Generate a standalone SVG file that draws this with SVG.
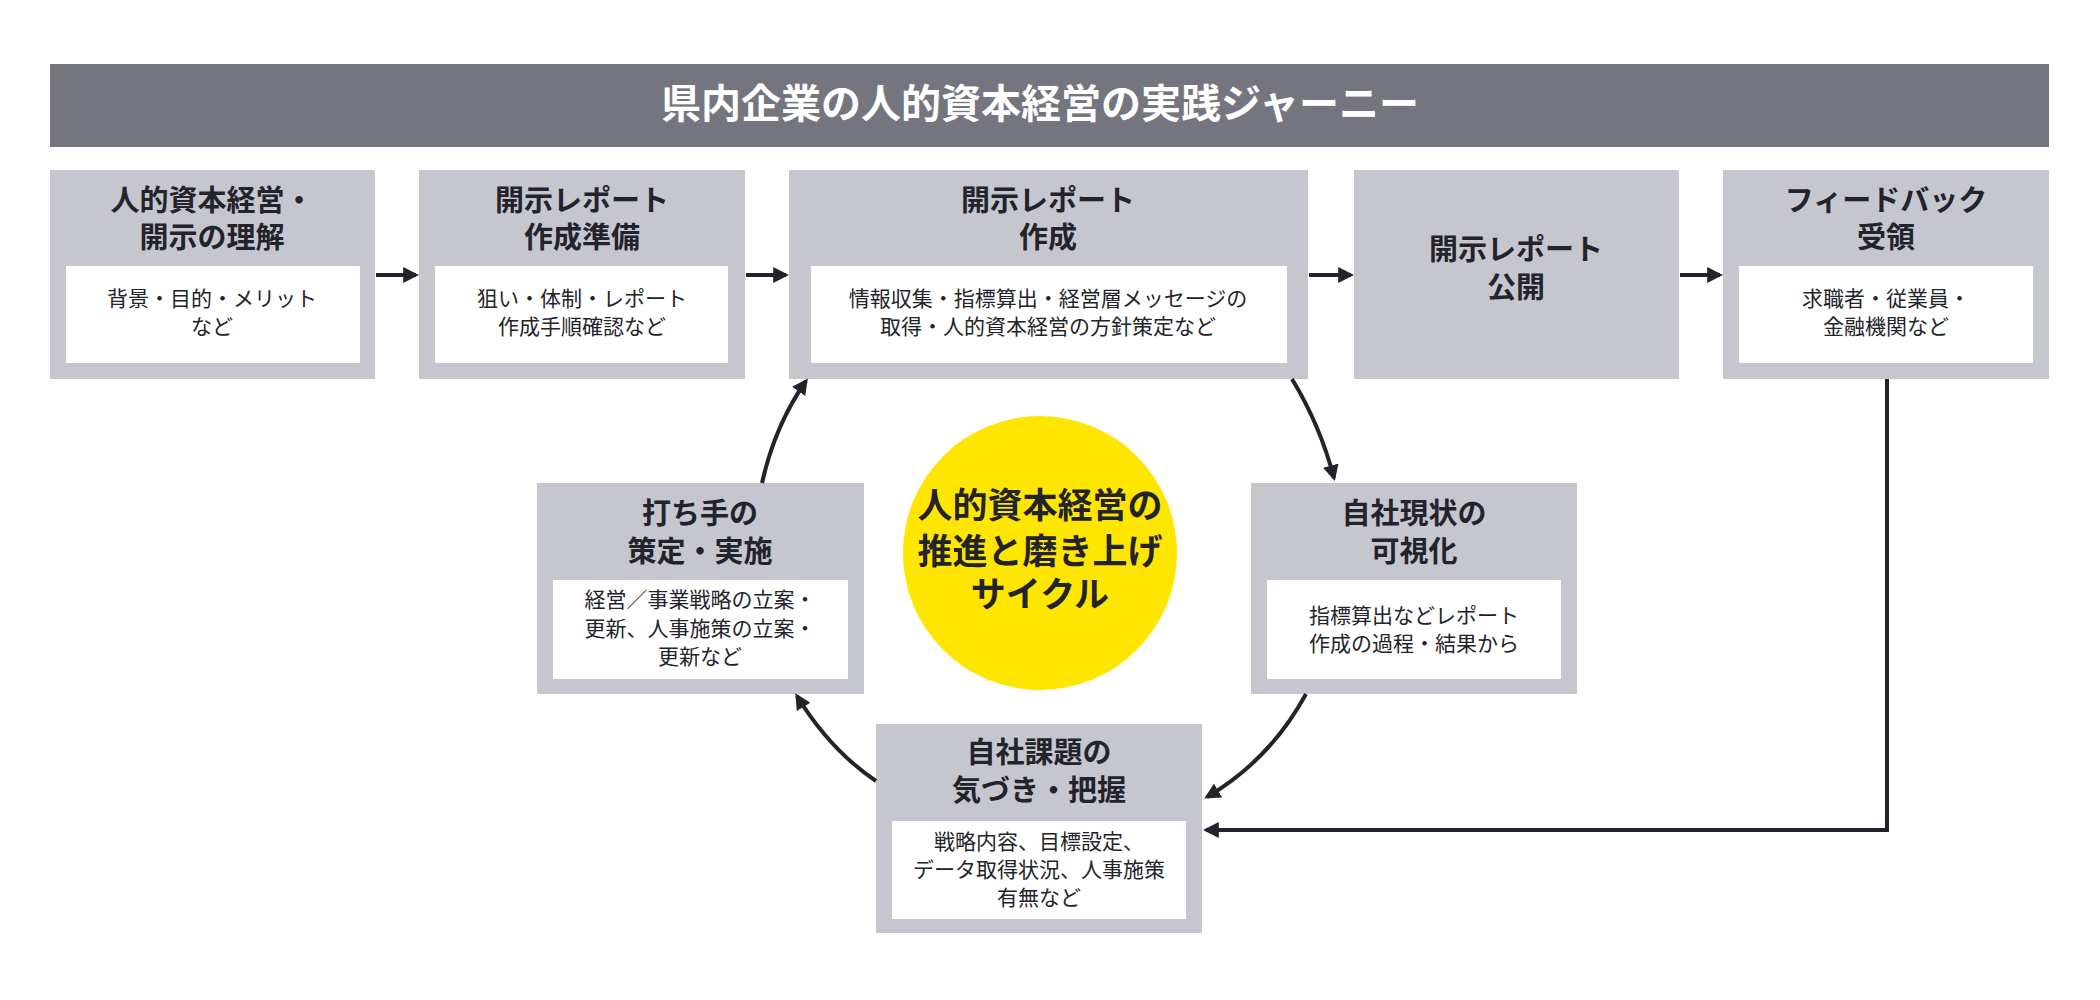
<svg xmlns="http://www.w3.org/2000/svg" width="2100" height="1000" viewBox="0 0 2100 1000">
<style>
.box{fill:#c6c6ce}.in{fill:#fff}
.t{font-family:"Liberation Sans","Noto Sans CJK JP",sans-serif;font-weight:bold;font-size:29px;fill:#23232b;text-anchor:middle}
.s{font-family:"Liberation Sans","Noto Sans CJK JP",sans-serif;font-size:21px;fill:#23232b;text-anchor:middle}
.c{font-family:"Liberation Sans","Noto Sans CJK JP",sans-serif;font-weight:bold;font-size:35px;fill:#23232b;text-anchor:middle}
.l{fill:none;stroke:#23232b;stroke-width:4;marker-end:url(#a)}
</style>
<defs><marker id="a" viewBox="0 0 10 10" refX="8" refY="5" markerWidth="4" markerHeight="4" orient="auto" markerUnits="strokeWidth"><path d="M0,0L10,5L0,10z" fill="#23232b"/></marker></defs>
<rect width="2100" height="1000" fill="#fff"/>
<g id="title"><rect x="50" y="64" width="1999" height="83" fill="#75757f"/>
<text x="1040" y="118" class="c" style="fill:#fff;font-size:40px">県内企業の人的資本経営の実践ジャーニー</text></g>
<g id="n1"><rect class="box" x="50" y="170" width="325" height="209"/><rect class="in" x="66" y="266" width="294" height="97"/>
<text class="t" x="212" y="211">人的資本経営・</text><text class="t" x="212" y="248">開示の理解</text>
<text class="s" x="212" y="306">背景・目的・メリット</text><text class="s" x="212" y="334">など</text></g>
<g id="n2"><rect class="box" x="419" y="170" width="326" height="209"/><rect class="in" x="435" y="266" width="293" height="97"/>
<text class="t" x="582" y="211">開示レポート</text><text class="t" x="582" y="248">作成準備</text>
<text class="s" x="582" y="306">狙い・体制・レポート</text><text class="s" x="582" y="334">作成手順確認など</text></g>
<g id="n3"><rect class="box" x="789" y="170" width="519" height="209"/><rect class="in" x="811" y="266" width="476" height="97"/>
<text class="t" x="1048" y="211">開示レポート</text><text class="t" x="1048" y="248">作成</text>
<text class="s" x="1048" y="306">情報収集・指標算出・経営層メッセージの</text><text class="s" x="1048" y="334">取得・人的資本経営の方針策定など</text></g>
<g id="n4"><rect class="box" x="1354" y="170" width="325" height="209"/>
<text class="t" x="1516" y="260">開示レポート</text><text class="t" x="1516" y="298">公開</text></g>
<g id="n5"><rect class="box" x="1723" y="170" width="326" height="209"/><rect class="in" x="1739" y="266" width="294" height="97"/>
<text class="t" x="1886" y="211">フィードバック</text><text class="t" x="1886" y="248">受領</text>
<text class="s" x="1886" y="306">求職者・従業員・</text><text class="s" x="1886" y="334">金融機関など</text></g>
<g id="center"><circle cx="1040" cy="553" r="137" fill="#ffe600"/>
<text class="c" x="1040" y="518">人的資本経営の</text><text class="c" x="1040" y="564">推進と磨き上げ</text><text class="c" x="1040" y="607">サイクル</text></g>
<g id="n6"><rect class="box" x="537" y="483" width="327" height="211"/><rect class="in" x="553" y="580" width="295" height="99"/>
<text class="t" x="700" y="524">打ち手の</text><text class="t" x="700" y="562">策定・実施</text>
<text class="s" x="700" y="607">経営／事業戦略の立案・</text><text class="s" x="700" y="636">更新、人事施策の立案・</text><text class="s" x="700" y="664">更新など</text></g>
<g id="n7"><rect class="box" x="1251" y="483" width="326" height="211"/><rect class="in" x="1267" y="580" width="294" height="99"/>
<text class="t" x="1414" y="524">自社現状の</text><text class="t" x="1414" y="562">可視化</text>
<text class="s" x="1414" y="623">指標算出などレポート</text><text class="s" x="1414" y="651">作成の過程・結果から</text></g>
<g id="n8"><rect class="box" x="876" y="724" width="326" height="209"/><rect class="in" x="892" y="821" width="294" height="98"/>
<text class="t" x="1039" y="763">自社課題の</text><text class="t" x="1039" y="801">気づき・把握</text>
<text class="s" x="1039" y="849">戦略内容、目標設定、</text><text class="s" x="1039" y="877">データ取得状況、人事施策</text><text class="s" x="1039" y="905">有無など</text></g>
<g id="connectors">
<path class="l" d="M376,275H416"/><path class="l" d="M746,275H786"/><path class="l" d="M1309,275H1351"/><path class="l" d="M1680,275H1720"/>
<path class="l" d="M1292,379Q1320,425 1334,478"/>
<path class="l" d="M1306,694Q1270,760 1207,797"/>
<path class="l" d="M876,781Q830,750 797,696"/>
<path class="l" d="M762,483Q775,425 806,381"/>
<path class="l" d="M1887,379V830H1206"/>
</g>
</svg>
